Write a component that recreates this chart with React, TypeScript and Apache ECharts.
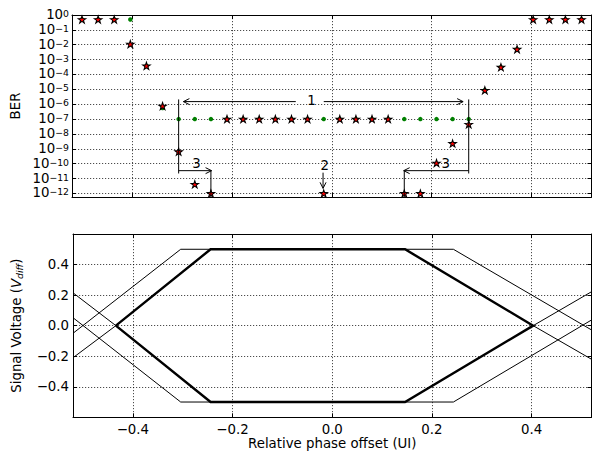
import React, { useEffect, useRef } from 'react';
import * as echarts from 'echarts';

// ---------- data ----------
const phaseOffset = [
  -0.5, -0.4677, -0.4355, -0.4032, -0.371, -0.3387, -0.3065, -0.2742,
  -0.2419, -0.2097, -0.1774, -0.1452, -0.1129, -0.0806, -0.0484, -0.0161,
  0.0161, 0.0484, 0.0806, 0.1129, 0.1452, 0.1774, 0.2097, 0.2419,
  0.2742, 0.3065, 0.3387, 0.371, 0.4032, 0.4355, 0.4677, 0.5,
];
const berEstimated = [
  0.5, 0.5, 0.5, 1.1e-2, 3.8e-4, 7.5e-7, 6.4e-10, 4.1e-12,
  1e-12, 1e-7, 1e-7, 1e-7, 1e-7, 1e-7, 1e-7, 1e-12,
  1e-7, 1e-7, 1e-7, 1e-7, 1e-12, 1e-12, 1.1e-10, 2.3e-9,
  4.5e-8, 8.7e-6, 3.1e-4, 5e-3, 0.5, 0.5, 0.5, 0.5,
];
const berMeasured = [
  0.5, 0.5, 0.5, 0.5, 3.8e-4, 5.5e-7, 1e-7, 1e-7,
  1e-7, 1e-7, 1e-7, 1e-7, 1e-7, 1e-7, 1e-7, 1e-7,
  1e-7, 1e-7, 1e-7, 1e-7, 1e-7, 1e-7, 1e-7, 1e-7,
  1e-7, 8.7e-6, 3.1e-4, 5e-3, 0.5, 0.5, 0.5, 0.5,
];

const xTickValues = [-0.4, -0.2, 0, 0.2, 0.4];
const berDecades = [-12, -11, -10, -9, -8, -7, -6, -5, -4, -3, -2, -1, 0];
const voltageTicks = [-0.4, -0.2, 0, 0.2, 0.4];

// eye diagram traces (UI, Vdiff)
const eyeInnerX = [-0.434, -0.244, 0.146, 0.403, 0.146, -0.244, -0.434];
const eyeInnerY = [0, 0.5, 0.5, 0, -0.5, -0.5, 0];
const traceRiseAX = [-0.52, -0.434, -0.244, 0.146, 0.403, 0.52];
const traceRiseAY = [-0.21, 0, 0.5, 0.5, 0, -0.22];
const traceFallAX = [-0.52, -0.434, -0.244, 0.146, 0.403, 0.52];
const traceFallAY = [0.215, 0, -0.5, -0.5, 0, 0.222];
const traceRiseBX = [-0.52, -0.304, 0.243, 0.52];
const traceRiseBY = [-0.05, 0.5, 0.5, -0.028];
const traceFallBX = [-0.52, -0.304, 0.243, 0.52];
const traceFallBY = [0.052, -0.5, -0.5, 0.037];

// annotations: [x1, ber1, x2, ber2] in data units
const plainLines = [
  [-0.3065, 2.1e-6, -0.3065, 2.2e-11],
  [0.2742, 2.1e-6, 0.2742, 2.2e-11],
  [-0.2419, 3.4e-11, -0.2419, 5.75e-13],
  [0.1452, 3.4e-11, 0.1452, 5.75e-13],
];
const arrowLines = [
  [-0.072, 1.5e-6, -0.297, 1.5e-6],
  [-0.016, 1.5e-6, 0.263, 1.5e-6],
  [-0.3065, 3.4e-11, -0.2406, 3.4e-11],
  [0.2742, 3.4e-11, 0.144, 3.4e-11],
  [-0.0174, 2.5e-11, -0.0174, 2.2e-12],
];
const annotationLabels: [string, number, number][] = [
  ['1', -0.0406, 1.8e-6],
  ['2', -0.014, 8.1e-11],
  ['3', -0.2706, 1.07e-10],
  ['3', 0.228, 1.07e-10],
];

// ---------- chart ----------
const FONT = 'DejaVu Sans';
const FS = 13.33;
const X_MIN = -0.52;
const X_MAX = 0.52;
const LOG_MIN = -12.24;
const LOG_MAX = 0;
const V_MIN = -0.6;
const V_MAX = 0.6;

const STAR =
  'path://M50,0 L61.2,34.5 L97.6,34.5 L68.2,55.9 L79.4,90.5 L50,69.1 L20.6,90.5 L31.8,55.9 L2.4,34.5 L38.8,34.5 Z';

const gridDots = { color: '#000', width: 0.7, type: [1.2, 1.8] as any };
const axisLineStyle = { show: true, onZero: false, lineStyle: { color: '#000', width: 1 } };
const tickStyle = (vals: number[]) => ({
  show: true,
  inside: true,
  length: 4,
  customValues: vals,
  lineStyle: { color: '#000', width: 1 },
});

const minus = (s: string) => s.replace('-', '\u2212');

function buildOption(): any {
  const zip = (xs: number[], ys: number[]) => xs.map((x, i) => [x, ys[i]]);

  const xAxes = [
    {
      gridIndex: 0, type: 'value', position: 'bottom', min: X_MIN, max: X_MAX,
      axisLine: axisLineStyle, axisTick: tickStyle(xTickValues),
      axisLabel: { show: false, customValues: xTickValues },
      splitLine: { show: true, lineStyle: gridDots },
    },
    {
      gridIndex: 0, type: 'value', position: 'top', min: X_MIN, max: X_MAX,
      axisLine: axisLineStyle, axisTick: tickStyle(xTickValues),
      axisLabel: { show: false, customValues: xTickValues }, splitLine: { show: false },
    },
    {
      gridIndex: 1, type: 'value', position: 'bottom', min: X_MIN, max: X_MAX,
      axisLine: axisLineStyle, axisTick: tickStyle(xTickValues),
      axisLabel: {
        show: true, customValues: xTickValues, margin: 6, color: '#000',
        fontFamily: FONT, fontSize: FS,
        formatter: (v: number) => minus(v.toFixed(1)),
      },
      splitLine: { show: true, lineStyle: gridDots },
      name: 'Relative phase offset (UI)', nameLocation: 'middle', nameGap: 20,
      nameTextStyle: { color: '#000', fontFamily: FONT, fontSize: FS },
    },
    {
      gridIndex: 1, type: 'value', position: 'top', min: X_MIN, max: X_MAX,
      axisLine: axisLineStyle, axisTick: tickStyle(xTickValues),
      axisLabel: { show: false, customValues: xTickValues }, splitLine: { show: false },
    },
  ];

  const yAxes = [
    {
      gridIndex: 0, type: 'value', position: 'left', min: LOG_MIN, max: LOG_MAX,
      splitNumber: 12,
      axisLine: axisLineStyle, axisTick: tickStyle(berDecades),
      axisLabel: {
        show: true, customValues: berDecades, margin: 3, color: '#000',
        showMinLabel: true, showMaxLabel: true, hideOverlap: false,
        fontFamily: FONT,
        formatter: (v: number) => `{b|10}{e|${minus(String(Math.round(v)))}}`,
        rich: {
          b: { fontFamily: FONT, fontSize: FS, lineHeight: 12, padding: [2, 0, 0, 0], verticalAlign: 'bottom', color: '#000' },
          e: { fontFamily: FONT, fontSize: 9.3, lineHeight: 7, verticalAlign: 'top', color: '#000' },
        },
      },
      splitLine: { show: true, lineStyle: gridDots },
      name: 'BER', nameLocation: 'middle', nameGap: 36, nameRotate: 90,
      nameTextStyle: { color: '#000', fontFamily: FONT, fontSize: FS },
    },
    {
      gridIndex: 0, type: 'value', position: 'right', min: LOG_MIN, max: LOG_MAX,
      splitNumber: 12,
      axisLine: axisLineStyle, axisTick: tickStyle(berDecades),
      axisLabel: { show: false, customValues: berDecades }, splitLine: { show: false },
    },
    {
      gridIndex: 1, type: 'value', position: 'left', min: V_MIN, max: V_MAX,
      axisLine: axisLineStyle, axisTick: tickStyle(voltageTicks),
      axisLabel: {
        show: true, customValues: voltageTicks, margin: 4, color: '#000',
        showMinLabel: true, showMaxLabel: true,
        fontFamily: FONT, fontSize: FS,
        formatter: (v: number) => minus(v.toFixed(1)),
      },
      splitLine: { show: true, lineStyle: gridDots },
      name: 'Signal Voltage ({v|V}{s|diff})', nameLocation: 'middle', nameGap: 49, nameRotate: 90,
      nameTextStyle: {
        color: '#000', fontFamily: FONT, fontSize: FS, lineHeight: 16,
        rich: {
          v: { fontFamily: FONT, fontSize: FS, fontStyle: 'italic', color: '#000' },
          s: { fontFamily: FONT, fontSize: 9.3, fontStyle: 'italic', lineHeight: 9, verticalAlign: 'bottom', color: '#000' },
        },
      },
    },
    {
      gridIndex: 1, type: 'value', position: 'right', min: V_MIN, max: V_MAX,
      axisLine: axisLineStyle, axisTick: tickStyle(voltageTicks),
      axisLabel: { show: false, customValues: voltageTicks }, splitLine: { show: false },
    },
  ];

  const lg = (b: number) => Math.log10(b);

  const series: any[] = [
    {
      type: 'scatter', xAxisIndex: 0, yAxisIndex: 0, z: 3,
      symbol: 'circle', symbolSize: 4.5,
      itemStyle: { color: '#008000', borderWidth: 0, opacity: 1 },
      data: phaseOffset.map((x, i) => [x, lg(berMeasured[i])]),
    },
    {
      type: 'scatter', xAxisIndex: 0, yAxisIndex: 0, z: 4,
      symbol: STAR, symbolSize: [7.6, 7.2],
      itemStyle: { color: '#ff0000', borderColor: '#000', borderWidth: 1, opacity: 1 },
      data: phaseOffset.map((x, i) => [x, lg(berEstimated[i])]),
    },
    {
      type: 'custom', xAxisIndex: 0, yAxisIndex: 0, z: 5, silent: true,
      clip: false,
      data: [0],
      renderItem: (_params: any, api: any) => {
        const pt = (x: number, b: number) => api.coord([x, lg(b)]);
        const children: any[] = [];
        const lineEl = (a: number[], b: number[]) => ({
          type: 'line',
          shape: { x1: a[0], y1: a[1], x2: b[0], y2: b[1] },
          style: { stroke: '#000', lineWidth: 1, fill: null },
        });
        plainLines.forEach((s) => children.push(lineEl(pt(s[0], s[1]), pt(s[2], s[3]))));
        arrowLines.forEach((s) => {
          const a = pt(s[0], s[1]);
          const b = pt(s[2], s[3]);
          children.push(lineEl(a, b));
          const dx = b[0] - a[0];
          const dy = b[1] - a[1];
          const L = Math.hypot(dx, dy) || 1;
          const ux = dx / L;
          const uy = dy / L;
          const hl = 6;
          const hw = 3;
          const bx = b[0] - ux * hl;
          const by = b[1] - uy * hl;
          children.push({
            type: 'polyline',
            shape: { points: [[bx - uy * hw, by + ux * hw], [b[0], b[1]], [bx + uy * hw, by - ux * hw]] },
            style: { stroke: '#000', lineWidth: 1, fill: null },
          });
        });
        annotationLabels.forEach(([t, x, b]) => {
          const p = pt(x, b);
          children.push({
            type: 'text', x: p[0], y: p[1],
            style: { text: t, fill: '#000', fontFamily: FONT, fontSize: FS, align: 'center', verticalAlign: 'middle' },
          });
        });
        return { type: 'group', children };
      },
    },
    {
      type: 'line', xAxisIndex: 2, yAxisIndex: 2, symbol: 'none', z: 3,
      lineStyle: { color: '#000', width: 1 }, data: zip(traceRiseAX, traceRiseAY),
    },
    {
      type: 'line', xAxisIndex: 2, yAxisIndex: 2, symbol: 'none', z: 3,
      lineStyle: { color: '#000', width: 1 }, data: zip(traceFallAX, traceFallAY),
    },
    {
      type: 'line', xAxisIndex: 2, yAxisIndex: 2, symbol: 'none', z: 3,
      lineStyle: { color: '#000', width: 1 }, data: zip(traceRiseBX, traceRiseBY),
    },
    {
      type: 'line', xAxisIndex: 2, yAxisIndex: 2, symbol: 'none', z: 3,
      lineStyle: { color: '#000', width: 1 }, data: zip(traceFallBX, traceFallBY),
    },
    {
      type: 'line', xAxisIndex: 2, yAxisIndex: 2, symbol: 'none', z: 4,
      lineStyle: { color: '#000', width: 2.4, join: 'miter' }, data: zip(eyeInnerX, eyeInnerY),
    },
  ];

  return {
    animation: false,
    backgroundColor: '#fff',
    textStyle: { fontFamily: FONT, color: '#000' },
    grid: [
      { left: 72, top: 15, width: 519.5, height: 182, containLabel: false },
      { left: 72, top: 234, width: 519.5, height: 183.3, containLabel: false },
    ],
    xAxis: xAxes,
    yAxis: yAxes,
    series,
  };
}

export default function App() {
  const ref = useRef<HTMLDivElement>(null);
  useEffect(() => {
    if (!ref.current) return;
    const chart = echarts.init(ref.current, undefined, { renderer: 'svg' });
    chart.setOption(buildOption());
    return () => chart.dispose();
  }, []);
  return (
    <div
      ref={ref}
      style={{ position: 'absolute', left: 0, top: 0, width: 592, height: 452, background: '#fff' }}
    />
  );
}
